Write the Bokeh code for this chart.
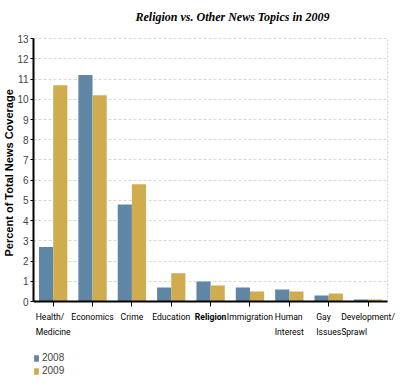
from bokeh.plotting import figure
from bokeh.models import (ColumnDataSource, LabelSet, Legend, LegendItem, FixedTicker,
                          Title, Range1d)
from bokeh.transform import dodge
from bokeh.core.properties import value
from bokeh.embed import file_html
from bokeh.resources import INLINE

categories = ["Health/\nMedicine", "Economics", "Crime", "Education", "Religion",
              "Immigration", "Human\nInterest", "Gay\nIssues", "Development/\nSprawl"]
values_2008 = [2.7, 11.2, 4.8, 0.7, 1.0, 0.7, 0.6, 0.3, 0.1]
values_2009 = [10.7, 10.2, 5.8, 1.4, 0.8, 0.5, 0.5, 0.4, 0.1]
label_styles = ["normal", "normal", "normal", "normal", "bold", "normal", "normal", "normal", "normal"]
y_ticks = list(range(0, 14))

C08 = "#5f87a5"
C09 = "#cfad4f"
SANS = "'Liberation Sans', Arial, sans-serif"
CAT_FONT = "Roboto, 'Liberation Sans', sans-serif"

n = len(categories)
idx = list(range(n))
y_max = y_ticks[-1]

src = ColumnDataSource(dict(x=idx, cat=categories, v08=values_2008, v09=values_2009,
                            zero=[0] * n, style=label_styles))

p = figure(x_range=Range1d(-0.5, n - 0.5 + 0.35), y_range=Range1d(-3.7, y_max + 0.4),
           width=401, height=376,
           min_border_left=0, min_border_right=0, min_border_bottom=0, min_border_top=0,
           output_backend="svg", toolbar_location=None, tools="")

r08 = p.vbar(x=dodge("x", -0.18), top="v08", width=0.36, source=src,
             fill_color=C08, line_color=None)
r09 = p.vbar(x=dodge("x", 0.18), top="v09", width=0.36, source=src,
             fill_color=C09, line_color=None)

# right dotted border of the plotting area
p.segment(x0=[n - 0.5], y0=[0], x1=[n - 0.5], y1=[y_max], line_color="#cfcfcf",
          line_dash="2 2", line_width=1)

p.title = Title(text="Religion vs. Other News Topics in 2009", align="left", offset=102,
                text_font="'Liberation Serif', 'Times New Roman', serif",
                text_font_style="bold italic", text_font_size="12px", standoff=14,
                text_color="#000000")

p.add_layout(Title(text="Percent of Total News Coverage", align="left", offset=120,
                   text_font=SANS, text_font_style="bold", text_font_size="11px",
                   standoff=0, text_color="#000000"), "left")

p.outline_line_color = None
p.xgrid.grid_line_color = None
p.ygrid.grid_line_color = "#d8d8d8"
p.ygrid.grid_line_dash = "3 2"
try:
    p.ygrid.cross_bounds = (-0.5, n - 0.5)
except Exception:
    pass

p.yaxis.ticker = FixedTicker(ticks=y_ticks)
p.yaxis.bounds = (0, y_max)
p.yaxis.major_label_text_font = SANS
p.yaxis.major_label_text_font_size = "10px"
p.yaxis.major_label_standoff = 2
p.yaxis.major_tick_out = 3
p.yaxis.major_tick_in = 0
p.yaxis.minor_tick_line_color = None
p.yaxis.axis_line_width = 2
p.yaxis.axis_line_color = "#000000"
p.yaxis.major_tick_line_color = "#000000"

p.xaxis.fixed_location = 0
p.xaxis.ticker = FixedTicker(ticks=idx)
p.xaxis.bounds = (-0.5, n - 0.5)
p.xaxis.major_label_text_font_size = "0px"
p.xaxis.major_label_text_color = None
p.xaxis.minor_tick_line_color = None
p.xaxis.major_tick_out = 5
p.xaxis.major_tick_in = 0
p.xaxis.axis_line_width = 2
p.xaxis.axis_line_color = "#000000"
p.xaxis.major_tick_line_color = "#000000"

labels = LabelSet(x="x", y="zero", text="cat", source=src, y_offset=-10,
                  text_align="center", text_baseline="top",
                  text_font=value(CAT_FONT), text_font_size="8.6px",
                  text_font_style="style", text_color="#000000", text_line_height=1.55)
p.add_layout(labels)

legend = Legend(items=[LegendItem(label="2008", renderers=[r08]),
                       LegendItem(label="2009", renderers=[r09])],
                location=(0, 0), orientation="vertical",
                glyph_width=6, glyph_height=8, label_text_font=SANS,
                label_text_font_size="10px", label_standoff=3, spacing=2,
                padding=0, margin=0, border_line_color=None, background_fill_alpha=0,
                label_height=10)
p.add_layout(legend)

open("out.html", "w").write(file_html(p, INLINE))
